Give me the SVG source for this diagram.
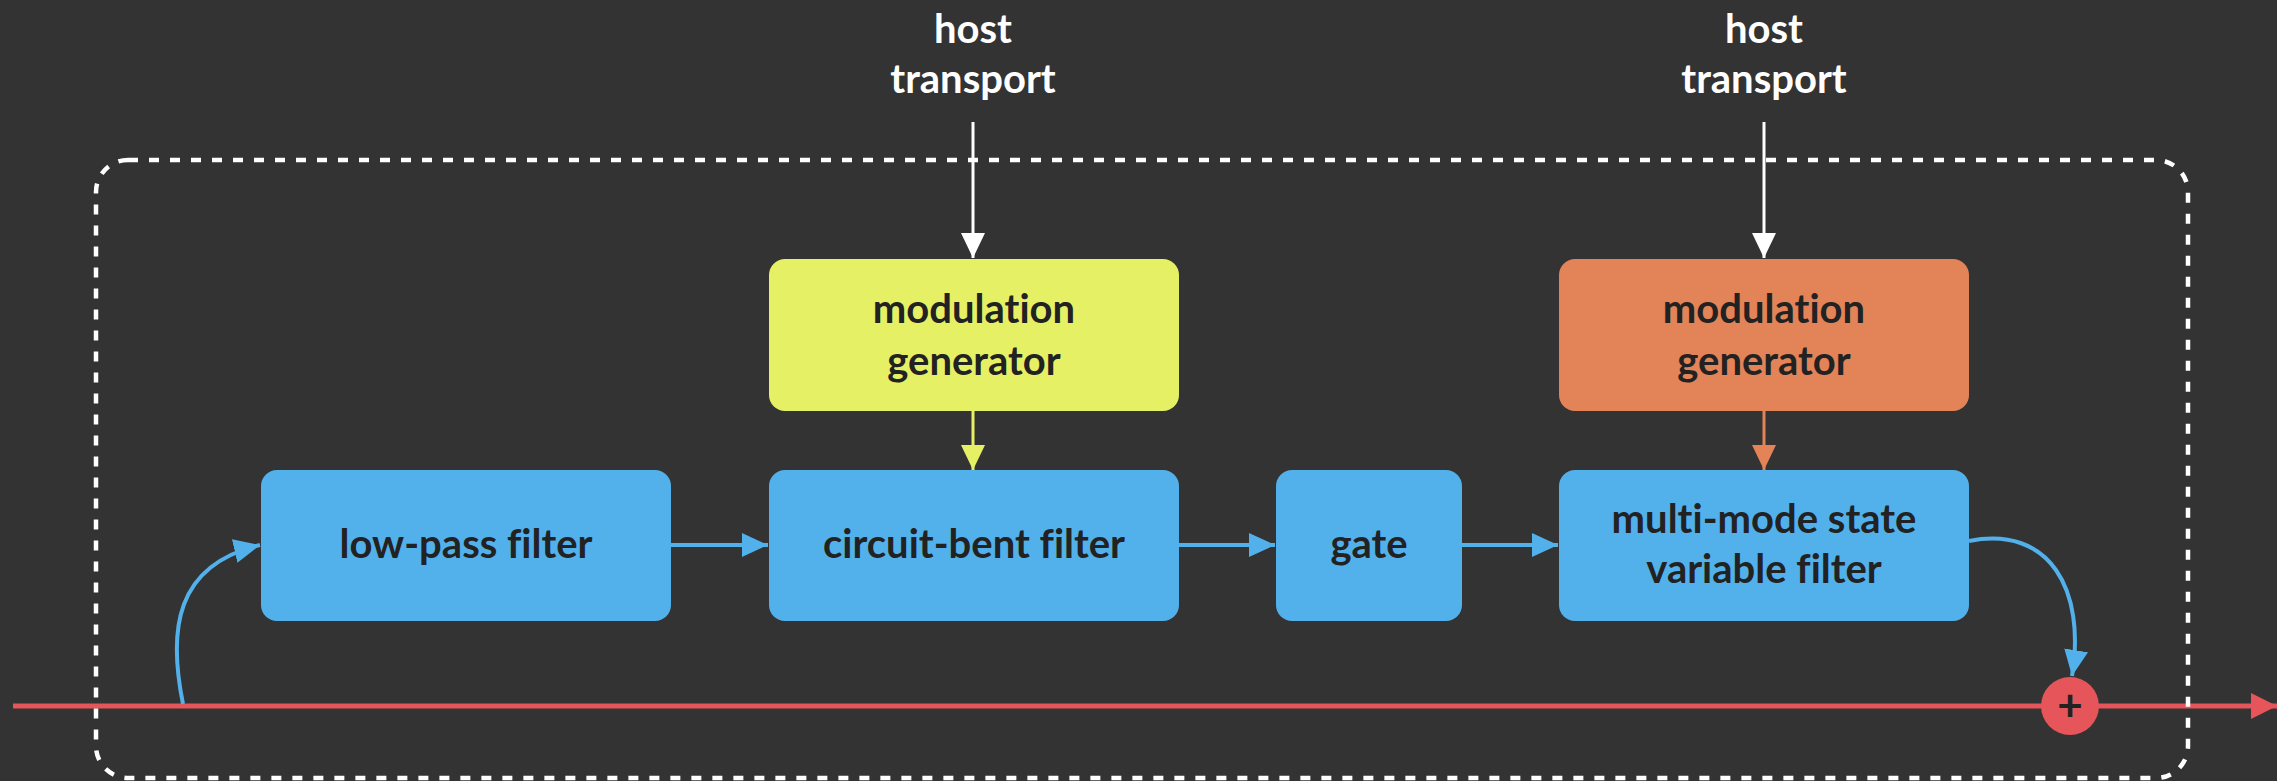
<svg xmlns="http://www.w3.org/2000/svg" width="2277" height="781" viewBox="0 0 2277 781">
<style>
  text { font-family: "Lato", "Open Sans", "Liberation Sans", sans-serif; font-weight: 700; font-size: 40px; text-anchor: middle; font-variant-ligatures: none; }
  .lbl { fill: #ffffff; }
  .dark { fill: #222222; }
  .blue { fill: #52b1eb; }
  .yellow { fill: #e6f064; }
  .orange { fill: #e28358; }
  .conn { fill: none; stroke-width: 4; }
</style>
<defs>
  <marker id="ah-white" markerUnits="userSpaceOnUse" markerWidth="25" markerHeight="24" refX="25" refY="12" orient="auto"><path d="M0,0 L25,12 L0,24 z" fill="#ffffff"/></marker>
  <marker id="ah-blue" markerUnits="userSpaceOnUse" markerWidth="26" markerHeight="24" refX="26" refY="12" orient="auto"><path d="M0,0 L26,12 L0,24 z" fill="#52b1eb"/></marker>
  <marker id="ah-yellow" markerUnits="userSpaceOnUse" markerWidth="25" markerHeight="24" refX="25" refY="12" orient="auto"><path d="M0,0 L25,12 L0,24 z" fill="#e6f064"/></marker>
  <marker id="ah-orange" markerUnits="userSpaceOnUse" markerWidth="25" markerHeight="24" refX="25" refY="12" orient="auto"><path d="M0,0 L25,12 L0,24 z" fill="#e28358"/></marker>
  <marker id="ah-red" markerUnits="userSpaceOnUse" markerWidth="26" markerHeight="26" refX="26" refY="13" orient="auto"><path d="M0,0 L26,13 L0,26 z" fill="#e5555a"/></marker>
</defs>
<rect x="0" y="0" width="2277" height="781" fill="#333333"/>

<g id="connectors">
  <line x1="13" y1="706" x2="2277" y2="706" stroke="#e5555a" stroke-width="5" marker-end="url(#ah-red)"/>
  <line x1="973" y1="122" x2="973" y2="258" stroke="#ffffff" stroke-width="3" marker-end="url(#ah-white)"/>
  <line x1="1764" y1="122" x2="1764" y2="258" stroke="#ffffff" stroke-width="3" marker-end="url(#ah-white)"/>
  <line x1="973" y1="411" x2="973" y2="470" stroke="#e6f064" stroke-width="3" marker-end="url(#ah-yellow)"/>
  <line x1="1764" y1="411" x2="1764" y2="470" stroke="#e28358" stroke-width="3" marker-end="url(#ah-orange)"/>
  <line x1="671" y1="545" x2="768" y2="545" class="conn" stroke="#52b1eb" marker-end="url(#ah-blue)"/>
  <line x1="1178" y1="545" x2="1275" y2="545" class="conn" stroke="#52b1eb" marker-end="url(#ah-blue)"/>
  <line x1="1462" y1="545" x2="1558" y2="545" class="conn" stroke="#52b1eb" marker-end="url(#ah-blue)"/>
  <path d="M 183 704 C 168 630, 175 565, 260 545" class="conn" stroke="#52b1eb" marker-end="url(#ah-blue)"/>
  <path d="M 1969 541 C 2050 525, 2086 590, 2072 676" class="conn" stroke="#52b1eb" marker-end="url(#ah-blue)"/>
</g>

<rect id="boundary" x="96" y="160" width="2092" height="618" rx="32" ry="32" fill="none" stroke="#ffffff" stroke-width="4.5" stroke-dasharray="10 11"/>

<g id="host-transport-1">
  <text class="lbl" x="973" y="43">host</text>
  <text class="lbl" x="973" y="93">transport</text>
</g>
<g id="host-transport-2">
  <text class="lbl" x="1764" y="43">host</text>
  <text class="lbl" x="1764" y="93">transport</text>
</g>

<g id="mod-gen-1">
  <rect x="769" y="259" width="410" height="152" rx="16" class="yellow"/>
  <text class="dark" x="974" y="323">modulation</text>
  <text class="dark" x="974" y="375">generator</text>
</g>
<g id="mod-gen-2">
  <rect x="1559" y="259" width="410" height="152" rx="16" class="orange"/>
  <text class="dark" x="1764" y="323">modulation</text>
  <text class="dark" x="1764" y="375">generator</text>
</g>

<g id="low-pass">
  <rect x="261" y="470" width="410" height="151" rx="16" class="blue"/>
  <text class="dark" x="466" y="558">low-pass filter</text>
</g>
<g id="circuit-bent">
  <rect x="769" y="470" width="410" height="151" rx="16" class="blue"/>
  <text class="dark" x="974" y="558">circuit-bent filter</text>
</g>
<g id="gate">
  <rect x="1276" y="470" width="186" height="151" rx="16" class="blue"/>
  <text class="dark" x="1369" y="558">gate</text>
</g>
<g id="svf">
  <rect x="1559" y="470" width="410" height="151" rx="16" class="blue"/>
  <text class="dark" x="1764" y="533">multi-mode state</text>
  <text class="dark" x="1764" y="583">variable filter</text>
</g>

<g id="sum">
  <circle cx="2070" cy="706" r="29" fill="#e5555a"/>
  <text class="dark" x="2070" y="721" style="font-size:44px">+</text>
</g>
</svg>
